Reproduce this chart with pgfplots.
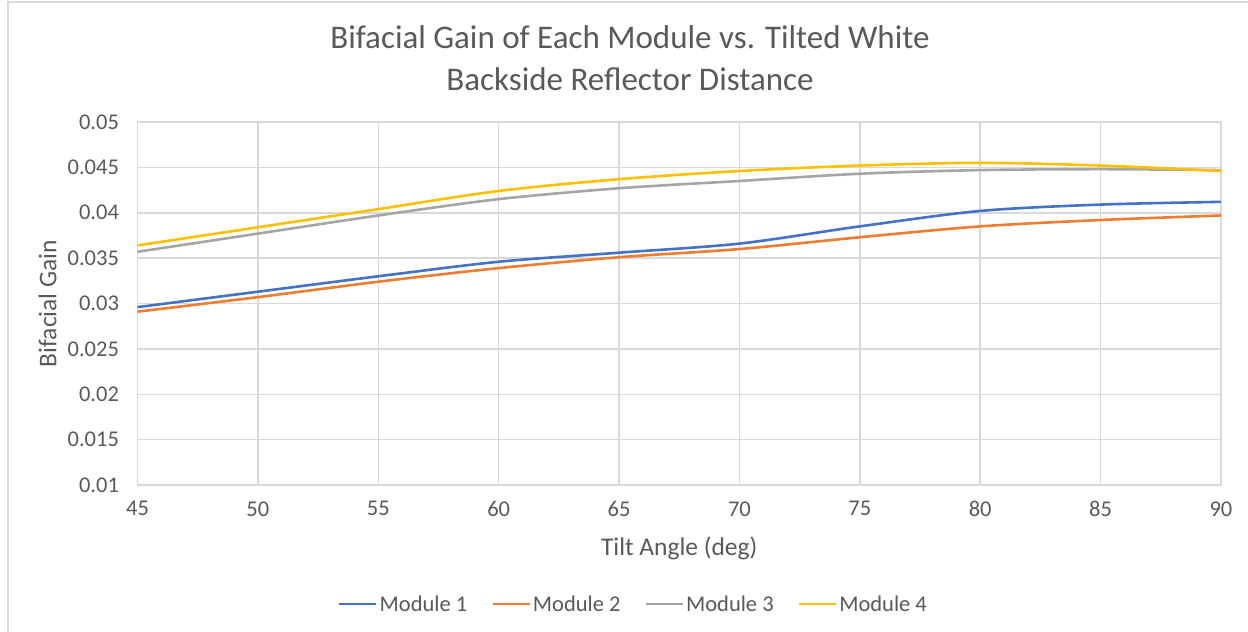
\documentclass[border=0pt]{standalone}
\usepackage{pgfplots}
\pgfplotsset{compat=1.18}
\usepackage{fontspec}
\setmainfont{Carlito}

\definecolor{txt}{HTML}{595959}
\definecolor{gridc}{HTML}{D9D9D9}
\definecolor{mblue}{HTML}{4472C4}
\definecolor{morange}{HTML}{ED7D31}
\definecolor{mgray}{HTML}{A5A5A5}
\definecolor{myellow}{HTML}{FFC000}

% Bifacial gain per module against tilt angle
\pgfplotstableread{
angle m1 m2 m3 m4
45 0.0296 0.0291 0.0357 0.0364
50 0.0313 0.0307 0.0377 0.0384
55 0.0330 0.0324 0.0397 0.0404
60 0.0346 0.0339 0.0415 0.0424
65 0.0356 0.0351 0.0427 0.0437
70 0.0366 0.0360 0.0435 0.0446
75 0.0385 0.0373 0.0443 0.0452
80 0.0402 0.0385 0.0447 0.0455
85 0.0409 0.0392 0.0448 0.0452
90 0.0412 0.0397 0.0447 0.0446
}\gaindata

\begin{document}
\begin{tikzpicture}[x=1pt,y=1pt]
\path[use as bounding box] (0,0) rectangle (1248,632);
% chart frame
\draw[gridc, line width=2pt] (7.5,0) -- (7.5,629.5) -- (1248,629.5);
% title
\node[text=txt, align=center, font=\fontsize{33}{42}\selectfont] at (630,574) {Bifacial Gain of Each Module vs. Tilted White\\Backside Reflector Distance};
\begin{axis}[
  at={(137.5pt,147pt)}, anchor=south west,
  scale only axis, width=1083.5pt, height=363pt,
  xmin=45, xmax=90, ymin=0.01, ymax=0.05,
  xtick={45,50,55,60,65,70,75,80,85,90},
  xticklabels={45,50,55,60,65,70,75,80,85,90},
  ytick={0.01,0.015,0.02,0.025,0.03,0.035,0.04,0.045,0.05},
  yticklabels={0.01,0.015,0.02,0.025,0.03,0.035,0.04,0.045,0.05},
  scaled ticks=false,
  major tick length=0pt,
  grid=major,
  grid style={gridc, line width=1.5pt},
  axis line style={gridc, line width=1.5pt},
  tick label style={text=txt, font=\fontsize{22.5}{26}\selectfont},
  yticklabel style={xshift=-15pt},
  xticklabel style={yshift=-13pt},
  xlabel={Tilt Angle (deg)},
  ylabel={Bifacial Gain},
  label style={text=txt, font=\fontsize{25.5}{30}\selectfont},
  xlabel style={at={(axis description cs:0.5,0)}, anchor=center, yshift=-63pt},
  every axis y label/.append style={at={(axis description cs:-0.083,0.5)}, anchor=center},
  legend columns=4,
  legend style={at={(0.4578,-0.328)}, anchor=center, draw=none, fill=none,
    font=\fontsize{22.5}{26}\selectfont, text=txt,
    /tikz/every even column/.append style={column sep=22pt},
    inner sep=0pt},
  legend image code/.code={\draw[#1] (0pt,0pt) -- (37pt,0pt);},
  legend cell align=left,
  every axis plot/.append style={line width=2.6pt, smooth, tension=0.5},
]
\addplot[mblue] table[x=angle, y=m1] {\gaindata};
\addlegendentry{Module 1}
\addplot[morange] table[x=angle, y=m2] {\gaindata};
\addlegendentry{Module 2}
\addplot[mgray] table[x=angle, y=m3] {\gaindata};
\addlegendentry{Module 3}
\addplot[myellow] table[x=angle, y=m4] {\gaindata};
\addlegendentry{Module 4}
\end{axis}
\end{tikzpicture}
\end{document}
